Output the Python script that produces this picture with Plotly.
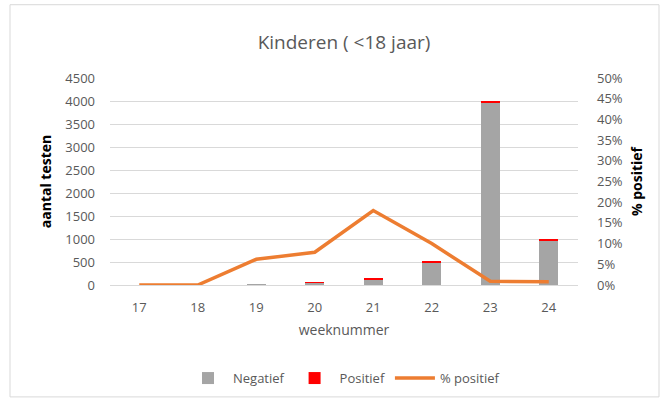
import plotly.graph_objects as go

weeks = ["17", "18", "19", "20", "21", "22", "23", "24"]
negatief = [0, 0, 8, 60, 115, 470, 3970, 975]
positief = [0, 0, 0, 5, 25, 52, 32, 8]
pct_positief = [0.0, 0.0, 6.2, 7.9, 18.0, 10.0, 0.9, 0.8]

left_ticks = list(range(0, 4501, 500))
right_ticks = [i * 5 for i in range(11)]
right_labels = [f"{v}%" for v in right_ticks]

FONT = "Open Sans"
GREY = "#595959"

fig = go.Figure()
fig.add_trace(go.Bar(x=weeks, y=negatief, name="Negatief", marker_color="#A5A5A5",
                     marker_line_width=0))
fig.add_trace(go.Bar(x=weeks, y=positief, name="Positief", marker_color="#FF0000",
                     marker_line_width=0))
fig.add_trace(go.Scatter(x=weeks, y=pct_positief, name="% positief", mode="lines",
                         line=dict(color="#ED7D31", width=3.5), yaxis="y2"))

W, H = 664, 405
ml, mr, mt, mb = 110, 86, 78, 118
pw, ph = W - ml - mr, H - mt - mb

def px(xp):
    return (xp - ml) / pw

def py(yp):
    return (H - mb - yp) / ph

fig.update_layout(
    width=W, height=H,
    margin=dict(l=ml, r=mr, t=mt, b=mb),
    barmode="stack", bargap=0.68,
    paper_bgcolor="white", plot_bgcolor="white",
    font=dict(family=FONT, color=GREY, size=13),
    title=dict(text="Kinderen ( <18 jaar)", x=0.5, xref="paper", xanchor="center",
               y=1 - 42 / H, yanchor="middle",
               font=dict(size=19, color=GREY, family=FONT)),
    xaxis=dict(showgrid=False, showline=True, linecolor="#d9d9d9", linewidth=1,
               ticks="", tickfont=dict(size=13, color=GREY), ticklabelstandoff=10,
               title=dict(text="weeknummer", font=dict(size=14, color=GREY), standoff=10)),
    yaxis=dict(range=[0, 4500], tickvals=left_ticks, showgrid=True, gridcolor="#d9d9d9",
               gridwidth=1, zeroline=False, ticklabelstandoff=14,
               tickfont=dict(size=13, color=GREY),
               title=dict(text="<b>aantal testen</b>", font=dict(size=14, color="#000000"),
                          standoff=10)),
    yaxis2=dict(range=[0, 50], tickvals=right_ticks, ticktext=right_labels,
                overlaying="y", side="right", showgrid=False, zeroline=False,
                ticklabelstandoff=18, tickfont=dict(size=13, color=GREY),
                title=dict(text="<b>% positief</b>", font=dict(size=14, color="#000000"),
                           standoff=10)),
    legend=dict(orientation="h", x=0.5, xanchor="center", xref="paper",
                y=py(381), yanchor="middle", font=dict(size=13, color=GREY),
                traceorder="normal", itemwidth=40),
    showlegend=True,
)

fig.add_shape(type="rect", xref="paper", yref="paper",
              x0=px(10), x1=px(659), y0=py(400), y1=py(4),
              line=dict(color="#d9d9d9", width=1), fillcolor="rgba(0,0,0,0)", layer="below")

fig.write_html("out.html", config={"displayModeBar": False},
               post_script="document.body.style.margin='0';")
